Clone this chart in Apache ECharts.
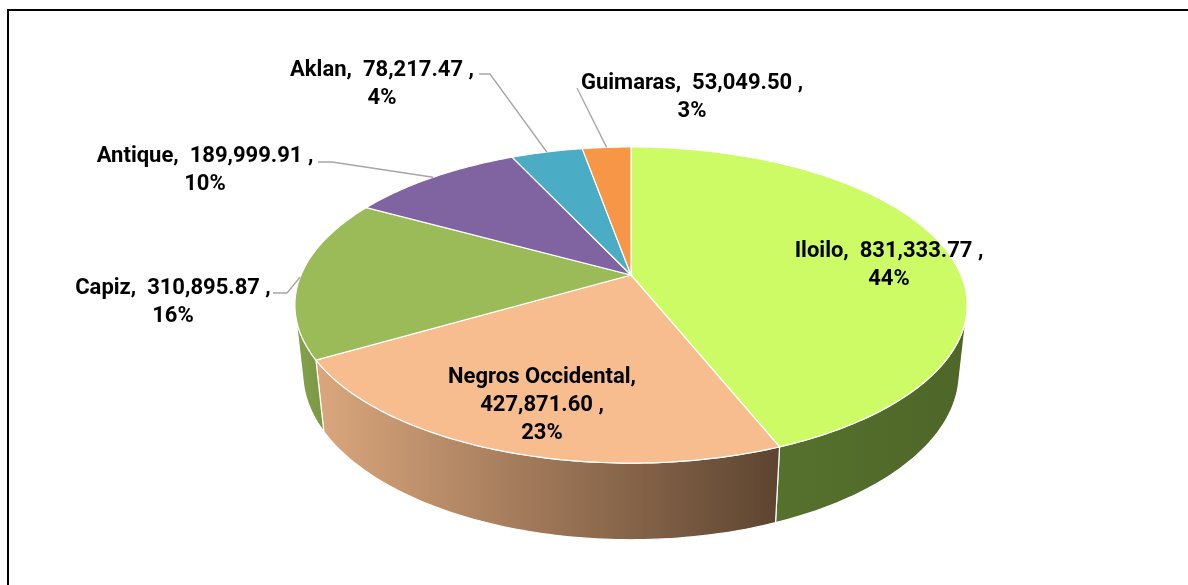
<!DOCTYPE html>
<html>
<head>
<meta charset="utf-8">
<script src="https://cdn.jsdelivr.net/npm/echarts@6/dist/echarts.min.js"></script>
<style>
  html, body { margin: 0; padding: 0; background: #ffffff; }
  #chart { width: 1188px; height: 585px; }
</style>
</head>
<body>
<div id="chart"></div>
<script>
// Provinces of Western Visayas and their totals
const provinces = ['Iloilo', 'Negros Occidental', 'Capiz', 'Antique', 'Aklan', 'Guimaras'];
const totals = [831333.77, 427871.60, 310895.87, 189999.91, 78217.47, 53049.50];

// Slice colours: top face, and the side wall (left -> right shading)
const topColors = ['#ccfb66', '#f7bd8e', '#9bbb59', '#8064a2', '#4bacc6', '#f79646'];
const sideColors = [
  ['#56712d', '#4e6628'],
  ['#dba77d', '#5d4430'],
  ['#84a44b', '#7a9743'],
  ['#6a5088', '#5c4578'],
  ['#3f93aa', '#367f93'],
  ['#d57b35', '#c06d2d']
];

// Label placement: centre x, top y of the text block, leader-line start points
const labelLayout = [
  { x: 889, y: 237, breakName: false, leader: null },
  { x: 542, y: 363, breakName: true, leader: null },
  { x: 173, y: 274, breakName: false, leader: [[273, 293], [287, 293]] },
  { x: 205, y: 142, breakName: false, leader: [[318, 162], [332, 162]] },
  { x: 382, y: 56, breakName: false, leader: [[479, 74], [490, 74]] },
  { x: 692, y: 69, breakName: false, leader: [[577, 88]] }
];

// Perspective view of the tilted disc
const VIEW = { cx: 631, cy: 275, f: 1541, dist: 4.67, elev: 27.5 * Math.PI / 180, depth: 0.233 };

const grandTotal = totals.reduce((a, b) => a + b, 0);
const startAngles = [];
(function () {
  let acc = 0;
  totals.forEach(v => { startAngles.push(acc / grandTotal * Math.PI * 2); acc += v; });
})();

// theta: clockwise from the far (top) side; h: 0 on the top face, negative below
function project(theta, h) {
  const u = Math.sin(theta), w = Math.cos(theta);
  const sa = Math.sin(VIEW.elev), ca = Math.cos(VIEW.elev);
  const up = w * sa + h * ca;
  const d = VIEW.dist + w * ca - h * sa;
  return [VIEW.cx + VIEW.f * u / d, VIEW.cy - VIEW.f * up / d];
}

// Front-facing part of the outer wall
const wallFrom = Math.acos(-1 / (VIEW.dist * Math.cos(VIEW.elev)));
const wallTo = Math.PI * 2 - wallFrom;

function arcPoints(a0, a1, h) {
  const pts = [];
  const n = Math.max(2, Math.ceil((a1 - a0) / (Math.PI / 180)));
  for (let i = 0; i <= n; i++) pts.push(project(a0 + (a1 - a0) * i / n, h));
  return pts;
}

// angular range of slice i, from its share of the total
function sliceRange(i, value) {
  const a0 = startAngles[i];
  return [a0, a0 + value / grandTotal * Math.PI * 2];
}

function fmtNumber(v) {
  const parts = v.toFixed(2).split('.');
  parts[0] = parts[0].replace(/\B(?=(\d{3})+(?!\d))/g, ',');
  return parts.join('.');
}

function labelText(i, value) {
  const pct = Math.round(value / grandTotal * 100) + '%';
  const num = fmtNumber(value);
  if (labelLayout[i].breakName) return provinces[i] + ',\n' + num + ' ,\n' + pct;
  return provinces[i] + ',  ' + num + ' ,\n' + pct;
}

const seriesData = provinces.map((name, i) => ({ name: name, value: [i, totals[i]] }));

const chart = echarts.init(document.getElementById('chart'), null, { renderer: 'canvas' });

chart.setOption({
  backgroundColor: '#ffffff',
  animation: false,
  graphic: [{
    type: 'rect',
    shape: { x: 8, y: 10, width: 1400, height: 800 },
    style: { fill: 'none', stroke: '#000000', lineWidth: 2 },
    silent: true
  }],
  series: [
    {
      // outer side wall of the disc
      type: 'custom',
      coordinateSystem: 'none',
      z: 1,
      data: seriesData,
      renderItem: function (params, api) {
        const i = api.value(0);
        const r = sliceRange(i, api.value(1));
        const a0 = Math.max(r[0], wallFrom), a1 = Math.min(r[1], wallTo);
        if (a1 <= a0) return { type: 'group', children: [] };
        const topArc = arcPoints(a0, a1, 0);
        const botArc = arcPoints(a0, a1, -VIEW.depth).reverse();
        return {
          type: 'polygon',
          shape: { points: topArc.concat(botArc) },
          style: {
            fill: new echarts.graphic.LinearGradient(0, 0, 1, 0, [
              { offset: 0, color: sideColors[i][0] },
              { offset: 1, color: sideColors[i][1] }
            ]),
            stroke: '#ffffff',
            lineWidth: 1.2
          }
        };
      }
    },
    {
      // top face slices
      type: 'custom',
      coordinateSystem: 'none',
      z: 2,
      data: seriesData,
      renderItem: function (params, api) {
        const i = api.value(0);
        const r = sliceRange(i, api.value(1));
        const pts = [[VIEW.cx, VIEW.cy]].concat(arcPoints(r[0], r[1], 0));
        return {
          type: 'polygon',
          shape: { points: pts },
          style: { fill: topColors[i], stroke: '#ffffff', lineWidth: 1.2 }
        };
      }
    },
    {
      // data labels and leader lines
      type: 'custom',
      coordinateSystem: 'none',
      z: 3,
      data: seriesData,
      renderItem: function (params, api) {
        const i = api.value(0);
        const value = api.value(1);
        const r = sliceRange(i, value);
        const lay = labelLayout[i];
        const children = [];
        if (lay.leader) {
          const anchor = project((r[0] + r[1]) / 2, 0);
          children.push({
            type: 'polyline',
            shape: { points: lay.leader.concat([anchor]) },
            style: { stroke: '#a6a6a6', lineWidth: 1.3, fill: null }
          });
        }
        children.push({
          type: 'text',
          style: {
            text: labelText(i, value),
            x: lay.x,
            y: lay.y,
            align: 'center',
            verticalAlign: 'top',
            fill: '#000000',
            font: 'bold 22px Roboto',
            lineHeight: 28
          }
        });
        return { type: 'group', children: children };
      }
    }
  ]
});
</script>
</body>
</html>
